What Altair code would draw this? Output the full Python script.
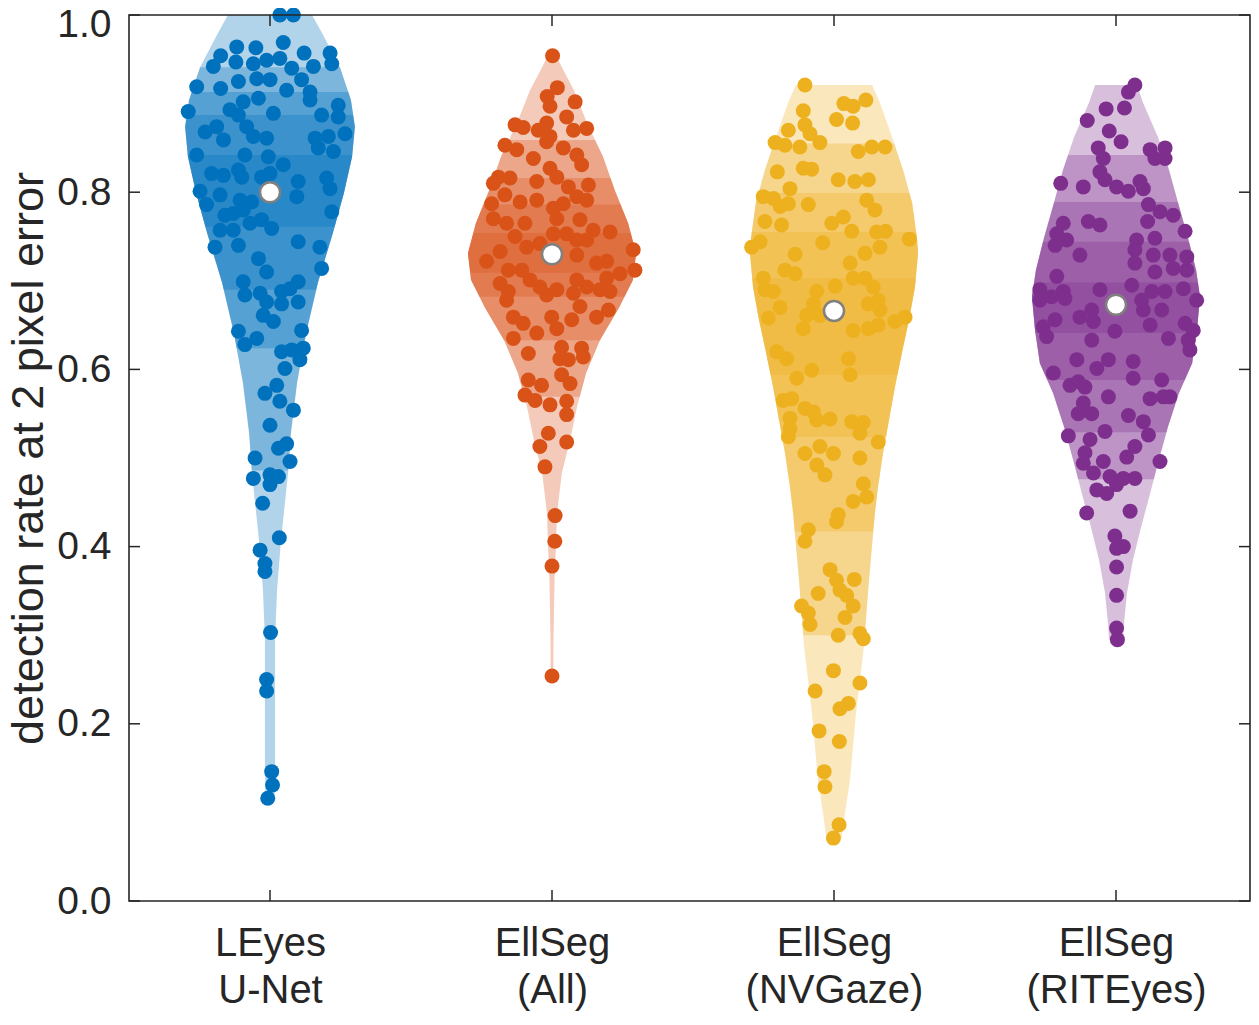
import altair as alt
import numpy as np
import pandas as pd

line1 = ["LEyes", "EllSeg", "EllSeg", "EllSeg"]
line2 = ["U-Net", "(All)", "(NVGaze)", "(RITEyes)"]
colors = ["#0072BD", "#D95319", "#EDB120", "#7E2F8E"]
medians = [0.800, 0.730, 0.666, 0.673]
y_ticks = [0.0, 0.2, 0.4, 0.6, 0.8, 1.0]
y_title = "detection rate at 2 pixel error"

# individual points: (horizontal jitter in category units, detection rate)
leyes_pts = [
    (0.035, 1.000), (0.083, 1.000), (-0.118, 0.964), (-0.050, 0.963), (0.047, 0.969), (0.121, 0.957),
    (0.213, 0.957), (-0.175, 0.954), (-0.201, 0.942), (-0.121, 0.947), (-0.059, 0.945), (-0.012, 0.949),
    (0.035, 0.951), (0.077, 0.940), (0.154, 0.942), (0.219, 0.945), (-0.260, 0.919), (-0.175, 0.917),
    (-0.112, 0.925), (-0.047, 0.928), (0.000, 0.927), (0.059, 0.915), (0.112, 0.927), (0.142, 0.913),
    (0.142, 0.904), (-0.041, 0.906), (0.012, 0.889), (-0.095, 0.902), (-0.142, 0.893), (-0.112, 0.887),
    (-0.290, 0.891), (0.183, 0.887), (0.242, 0.898), (0.242, 0.885), (0.266, 0.866), (-0.230, 0.868),
    (-0.189, 0.874), (-0.165, 0.859), (-0.083, 0.874), (-0.059, 0.863), (-0.012, 0.861), (0.160, 0.861),
    (0.207, 0.863), (0.171, 0.850), (0.225, 0.846), (-0.260, 0.842), (-0.089, 0.842), (-0.006, 0.840),
    (0.047, 0.831), (-0.207, 0.821), (-0.165, 0.819), (-0.112, 0.825), (-0.100, 0.817), (-0.030, 0.817),
    (0.000, 0.821), (0.100, 0.812), (0.095, 0.795), (0.201, 0.816), (0.213, 0.804), (-0.248, 0.801),
    (-0.177, 0.797), (-0.225, 0.786), (-0.106, 0.791), (-0.065, 0.789), (-0.160, 0.774), (-0.130, 0.776),
    (-0.095, 0.780), (-0.177, 0.757), (-0.130, 0.757), (-0.071, 0.765), (-0.030, 0.769), (0.006, 0.759),
    (0.219, 0.778), (-0.195, 0.738), (-0.112, 0.740), (0.100, 0.744), (0.177, 0.738), (-0.041, 0.725),
    (-0.012, 0.710), (0.183, 0.714), (-0.095, 0.699), (0.100, 0.699), (-0.089, 0.684), (-0.035, 0.686),
    (0.041, 0.688), (0.071, 0.691), (-0.012, 0.676), (0.041, 0.674), (0.100, 0.676), (-0.024, 0.661),
    (0.012, 0.654), (-0.112, 0.643), (-0.089, 0.628), (-0.047, 0.635), (0.112, 0.644), (0.118, 0.624),
    (0.041, 0.620), (0.077, 0.622), (0.106, 0.611), (0.053, 0.601), (-0.018, 0.573), (0.024, 0.582),
    (0.035, 0.564), (0.083, 0.554), (0.000, 0.537), (0.030, 0.511), (0.059, 0.516), (-0.053, 0.500),
    (0.071, 0.496), (-0.059, 0.477), (0.000, 0.481), (0.030, 0.479), (0.000, 0.470), (-0.026, 0.449),
    (0.033, 0.410), (-0.035, 0.396), (-0.018, 0.381), (-0.018, 0.372), (0.002, 0.303), (-0.012, 0.250),
    (-0.012, 0.237), (0.006, 0.146), (0.009, 0.131), (-0.008, 0.116),
]
ellall_pts = [
    (0.002, 0.954), (0.019, 0.918), (-0.017, 0.908), (-0.007, 0.897), (0.082, 0.902), (0.052, 0.885),
    (-0.131, 0.876), (-0.102, 0.873), (-0.049, 0.870), (-0.019, 0.878), (-0.007, 0.863), (0.076, 0.870),
    (0.123, 0.872), (-0.167, 0.853), (-0.125, 0.848), (-0.066, 0.838), (-0.019, 0.857), (0.040, 0.850),
    (0.088, 0.842), (0.105, 0.831), (-0.190, 0.817), (-0.149, 0.816), (-0.208, 0.810), (-0.054, 0.812),
    (-0.007, 0.827), (0.017, 0.817), (0.058, 0.806), (0.129, 0.808), (-0.167, 0.797), (-0.113, 0.789),
    (-0.054, 0.791), (0.005, 0.782), (0.040, 0.787), (0.088, 0.795), (0.123, 0.791), (-0.214, 0.787),
    (-0.208, 0.770), (-0.161, 0.765), (-0.096, 0.765), (0.017, 0.770), (0.099, 0.769), (0.146, 0.757),
    (0.206, 0.755), (-0.131, 0.750), (-0.090, 0.738), (-0.184, 0.733), (-0.232, 0.722), (-0.043, 0.742),
    (0.005, 0.753), (0.052, 0.753), (0.088, 0.746), (0.123, 0.746), (0.088, 0.729), (0.158, 0.720),
    (0.194, 0.722), (0.288, 0.735), (0.294, 0.712), (0.241, 0.708), (0.194, 0.703), (-0.155, 0.712),
    (-0.107, 0.712), (-0.184, 0.697), (-0.155, 0.688), (-0.161, 0.678), (-0.078, 0.701), (-0.043, 0.693),
    (0.017, 0.690), (-0.019, 0.684), (0.088, 0.701), (0.076, 0.686), (0.123, 0.693), (0.170, 0.690),
    (0.206, 0.688), (-0.137, 0.659), (-0.102, 0.652), (-0.054, 0.641), (-0.137, 0.635), (-0.001, 0.659),
    (0.017, 0.646), (0.070, 0.656), (0.099, 0.671), (0.158, 0.659), (0.200, 0.667), (-0.084, 0.618),
    (0.034, 0.625), (0.028, 0.612), (0.058, 0.611), (0.105, 0.624), (0.111, 0.614), (-0.084, 0.588),
    (-0.037, 0.582), (-0.096, 0.571), (-0.060, 0.565), (0.034, 0.594), (0.064, 0.584), (-0.007, 0.560),
    (0.052, 0.564), (0.052, 0.549), (-0.013, 0.528), (-0.043, 0.513), (0.052, 0.518), (-0.025, 0.490),
    (0.011, 0.435), (0.010, 0.406), (0.000, 0.378), (0.000, 0.254),
]
nvgaze_pts = [
    (-0.103, 0.921), (-0.109, 0.892), (0.035, 0.900), (0.068, 0.897), (0.113, 0.904), (0.009, 0.882),
    (0.066, 0.878), (-0.162, 0.870), (-0.103, 0.876), (-0.085, 0.866), (-0.209, 0.856), (-0.174, 0.853),
    (-0.121, 0.851), (-0.050, 0.856), (0.086, 0.846), (0.134, 0.851), (0.181, 0.851), (-0.201, 0.823),
    (-0.109, 0.827), (-0.079, 0.826), (0.015, 0.814), (0.074, 0.812), (0.122, 0.814), (0.116, 0.791),
    (-0.156, 0.804), (-0.251, 0.795), (-0.215, 0.793), (-0.191, 0.784), (-0.162, 0.787), (-0.245, 0.767),
    (-0.186, 0.763), (-0.091, 0.786), (0.145, 0.780), (-0.008, 0.765), (0.033, 0.772), (0.063, 0.756),
    (0.151, 0.755), (0.183, 0.756), (0.163, 0.738), (-0.292, 0.738), (-0.262, 0.744), (-0.040, 0.743),
    (0.267, 0.747), (-0.138, 0.730), (-0.174, 0.712), (-0.138, 0.708), (0.057, 0.720), (0.110, 0.731),
    (0.068, 0.703), (0.110, 0.703), (0.139, 0.693), (0.004, 0.694), (-0.251, 0.703), (-0.245, 0.690),
    (-0.215, 0.688), (-0.191, 0.670), (-0.233, 0.658), (-0.061, 0.688), (-0.073, 0.674), (-0.097, 0.661),
    (-0.109, 0.646), (-0.050, 0.661), (0.122, 0.674), (0.157, 0.678), (0.163, 0.667), (0.068, 0.644),
    (0.122, 0.646), (0.157, 0.650), (0.216, 0.654), (0.252, 0.659), (-0.203, 0.620), (-0.168, 0.612),
    (-0.079, 0.599), (-0.132, 0.590), (0.051, 0.612), (0.057, 0.594), (-0.180, 0.565), (-0.150, 0.567),
    (-0.103, 0.556), (-0.073, 0.552), (-0.156, 0.545), (-0.156, 0.533), (-0.162, 0.524), (-0.061, 0.543),
    (-0.014, 0.544), (0.063, 0.541), (0.104, 0.540), (0.092, 0.528), (0.157, 0.518), (-0.103, 0.505),
    (-0.050, 0.513), (-0.002, 0.505), (-0.061, 0.492), (-0.032, 0.481), (0.092, 0.500), (0.104, 0.471),
    (0.116, 0.456), (0.068, 0.451), (0.015, 0.436), (0.009, 0.428), (-0.091, 0.419), (-0.103, 0.406),
    (-0.014, 0.374), (0.009, 0.362), (0.072, 0.363), (-0.056, 0.347), (0.021, 0.351), (0.045, 0.345),
    (0.068, 0.333), (-0.115, 0.333), (-0.091, 0.325), (-0.085, 0.312), (0.039, 0.320), (0.015, 0.300),
    (0.092, 0.302), (0.104, 0.296), (-0.002, 0.260), (-0.067, 0.237), (0.092, 0.246), (0.021, 0.217),
    (0.051, 0.223), (-0.053, 0.192), (0.019, 0.180), (-0.035, 0.146), (-0.032, 0.129), (0.018, 0.086),
    (-0.002, 0.071),
]
riteyes_pts = [
    (0.067, 0.921), (0.044, 0.913), (-0.035, 0.894), (0.030, 0.895), (-0.102, 0.881), (-0.024, 0.869),
    (0.018, 0.857), (-0.063, 0.850), (-0.045, 0.838), (0.121, 0.848), (0.174, 0.850), (0.174, 0.838),
    (0.138, 0.838), (-0.057, 0.823), (-0.039, 0.814), (0.002, 0.806), (0.044, 0.801), (0.085, 0.812),
    (0.097, 0.804), (-0.196, 0.810), (-0.116, 0.806), (0.115, 0.786), (0.156, 0.778), (0.203, 0.774),
    (0.112, 0.767), (0.245, 0.756), (-0.187, 0.765), (-0.210, 0.753), (-0.175, 0.746), (-0.216, 0.740),
    (-0.098, 0.767), (-0.057, 0.763), (-0.128, 0.729), (0.073, 0.746), (0.138, 0.748), (0.067, 0.735),
    (0.067, 0.720), (0.132, 0.729), (0.191, 0.729), (0.251, 0.727), (0.138, 0.710), (0.203, 0.714),
    (0.251, 0.712), (-0.210, 0.705), (-0.270, 0.690), (-0.270, 0.678), (-0.228, 0.682), (-0.187, 0.688),
    (-0.181, 0.680), (-0.057, 0.690), (0.056, 0.695), (0.127, 0.688), (0.174, 0.688), (0.239, 0.691),
    (0.286, 0.678), (0.091, 0.678), (0.097, 0.667), (0.162, 0.667), (-0.128, 0.659), (-0.086, 0.667),
    (-0.080, 0.654), (-0.216, 0.656), (-0.258, 0.648), (-0.246, 0.637), (-0.004, 0.643), (0.121, 0.650),
    (0.245, 0.652), (0.274, 0.644), (0.186, 0.635), (0.256, 0.633), (0.262, 0.622), (-0.086, 0.633),
    (-0.139, 0.611), (-0.027, 0.611), (0.061, 0.609), (-0.068, 0.601), (-0.222, 0.596), (0.061, 0.590),
    (0.162, 0.588), (-0.163, 0.582), (-0.134, 0.586), (-0.110, 0.580), (-0.027, 0.569), (0.121, 0.567),
    (0.168, 0.569), (0.191, 0.569), (-0.116, 0.562), (-0.134, 0.550), (-0.086, 0.550), (0.044, 0.548),
    (0.097, 0.541), (0.115, 0.526), (-0.039, 0.530), (-0.169, 0.525), (-0.092, 0.521), (-0.110, 0.506),
    (-0.116, 0.494), (-0.045, 0.496), (-0.080, 0.483), (0.038, 0.501), (0.067, 0.513), (0.156, 0.496),
    (-0.021, 0.479), (0.026, 0.477), (0.067, 0.477), (-0.068, 0.464), (-0.033, 0.460), (0.002, 0.470),
    (-0.104, 0.438), (0.050, 0.440), (-0.004, 0.412), (0.026, 0.400), (0.002, 0.398), (0.002, 0.377),
    (0.002, 0.345), (0.002, 0.308), (0.005, 0.295),
]

# violin outlines: (detection rate, half width in category units)
leyes_outline = [
    (1.000, 0.149), (0.980, 0.184), (0.941, 0.248), (0.904, 0.287), (0.874, 0.301), (0.840, 0.291),
    (0.799, 0.262), (0.754, 0.223), (0.698, 0.170), (0.641, 0.128), (0.585, 0.096), (0.528, 0.074),
    (0.483, 0.064), (0.407, 0.039), (0.351, 0.025), (0.295, 0.018), (0.219, 0.018), (0.156, 0.018),
    (0.116, 0.016),
]
ellall_outline = [
    (0.954, 0.015), (0.938, 0.040), (0.915, 0.078), (0.878, 0.124), (0.840, 0.181), (0.802, 0.223),
    (0.765, 0.270), (0.731, 0.298), (0.701, 0.287), (0.670, 0.238), (0.633, 0.170), (0.596, 0.121),
    (0.558, 0.089), (0.520, 0.064), (0.483, 0.035), (0.438, 0.018), (0.400, 0.014), (0.362, 0.009),
    (0.287, 0.005), (0.254, 0.005),
]
nvgaze_outline = [
    (0.921, 0.135), (0.901, 0.163), (0.862, 0.206), (0.825, 0.245), (0.788, 0.277), (0.749, 0.294),
    (0.731, 0.298), (0.693, 0.287), (0.656, 0.266), (0.619, 0.241), (0.580, 0.216), (0.543, 0.195),
    (0.506, 0.174), (0.467, 0.156), (0.438, 0.145), (0.362, 0.124), (0.287, 0.106), (0.212, 0.078),
    (0.137, 0.057), (0.099, 0.039), (0.071, 0.027),
]
riteyes_outline = [
    (0.921, 0.074), (0.901, 0.096), (0.862, 0.149), (0.825, 0.188), (0.788, 0.220), (0.749, 0.255),
    (0.712, 0.284), (0.682, 0.298), (0.644, 0.287), (0.607, 0.270), (0.573, 0.223), (0.535, 0.184),
    (0.498, 0.152), (0.460, 0.121), (0.422, 0.089), (0.385, 0.060), (0.348, 0.039), (0.309, 0.027),
    (0.295, 0.025),
]

# decile boundaries: q10, q20, q30, q40, q60, q70, q80, q90
leyes_q = [0.486, 0.624, 0.690, 0.761, 0.842, 0.887, 0.913, 0.941]
ellall_q = [0.569, 0.633, 0.682, 0.709, 0.754, 0.786, 0.816, 0.859]
nvgaze_q = [0.300, 0.417, 0.524, 0.594, 0.703, 0.755, 0.799, 0.855]
riteyes_q = [0.476, 0.529, 0.588, 0.641, 0.698, 0.744, 0.789, 0.842]

names = [f"{a} {b}" for a, b in zip(line1, line2)]
all_pts = [leyes_pts, ellall_pts, nvgaze_pts, riteyes_pts]
all_outlines = [leyes_outline, ellall_outline, nvgaze_outline, riteyes_outline]
all_q = [leyes_q, ellall_q, nvgaze_q, riteyes_q]

# violin polygons: full outline plus nested decile ranges, each drawn translucent
vrows = []
for gi, (outline, q) in enumerate(zip(all_outlines, all_q)):
    pos = gi + 1
    oy = np.array([o[0] for o in outline])
    ow = np.array([o[1] for o in outline])
    idx = np.argsort(oy)
    oy, ow = oy[idx], ow[idx]
    intervals = [(oy[0], oy[-1]), (q[0], q[7]), (q[1], q[6]), (q[2], q[5]), (q[3], q[4])]
    for k, (lo, hi) in enumerate(intervals):
        ys = [float(lo)] + [float(v) for v in oy if lo < v < hi] + [float(hi)]
        for yv in ys:
            w = float(np.interp(yv, oy, ow))
            vrows.append(dict(group=names[gi], poly=f"{gi}-{k}", y=yv,
                              x=pos - w, x2=pos + w))
vdf = pd.DataFrame(vrows)

prows = []
for gi, pts in enumerate(all_pts):
    for j, v in pts:
        prows.append(dict(group=names[gi], x=gi + 1 + j, y=v))
pdf = pd.DataFrame(prows)

mdf = pd.DataFrame({"group": names, "x": [1, 2, 3, 4], "y": medians})
ytdf = pd.DataFrame({"y": y_ticks})
xtdf = pd.DataFrame({"x": [1, 2, 3, 4]})

AX = "#262626"
FONT = "Liberation Sans"
W, H = 1121, 886
xscale = alt.Scale(domain=[0.5, 0.5 + W / 282.0], nice=False, zero=False)
yscale = alt.Scale(domain=[0, 1], nice=False, zero=False)
label_expr = "[" + ",".join(f"['{a}','{b}']" for a, b in zip(line1, line2)) + "][datum.value - 1]"
xaxis = alt.Axis(values=[1, 2, 3, 4], labelExpr=label_expr, grid=False, ticks=False, domain=False,
                 labelFontSize=40, labelColor=AX, labelPadding=22, labelLineHeight=47,
                 labelFont=FONT, labelFlush=False, labelLimit=500)
yaxis = alt.Axis(values=y_ticks, format=".1f", grid=False, ticks=False, domain=False,
                 labelFontSize=39, labelColor=AX, labelPadding=18, labelFont=FONT, labelFlush=False,
                 labelOffset={"condition": {"test": "datum.value >= 1", "value": 9}, "value": 0},
                 titleFontSize=45, titleFontWeight="normal", titleColor=AX, titleFont=FONT,
                 titlePadding=5)


def X(field):
    return alt.X(field, scale=xscale, axis=xaxis, title=None)


def Y(field):
    return alt.Y(field, scale=yscale, axis=yaxis, title=y_title)


color = alt.Color("group:N", scale=alt.Scale(domain=names, range=colors), legend=None)

violins = alt.Chart(vdf).mark_area(orient="horizontal", opacity=0.3).encode(
    x=X("x:Q"),
    x2="x2:Q",
    y=Y("y:Q"),
    color=color,
    detail="poly:N",
)

points = alt.Chart(pdf).mark_circle(size=225, opacity=1).encode(
    x=X("x:Q"), y=Y("y:Q"), color=color
)

med = alt.Chart(mdf).mark_circle(size=400, color="white", stroke="#808080", strokeWidth=2.5,
                                 opacity=1).encode(x=X("x:Q"), y=Y("y:Q"))

tick_style = dict(color=AX, strokeWidth=1.5)
lt = alt.Chart(ytdf).mark_rule(**tick_style).encode(y=Y("y:Q"), x=alt.value(0), x2=alt.value(11))
rt = alt.Chart(ytdf).mark_rule(**tick_style).encode(y=Y("y:Q"), x=alt.value(W), x2=alt.value(W - 11))
bt = alt.Chart(xtdf).mark_rule(**tick_style).encode(x=X("x:Q"), y=alt.value(H), y2=alt.value(H - 11))
tt = alt.Chart(xtdf).mark_rule(**tick_style).encode(x=X("x:Q"), y=alt.value(0), y2=alt.value(11))

# axes box
frame = alt.Chart(xtdf.head(1)).mark_rect(fillOpacity=0, stroke=AX, strokeWidth=1.6).encode(
    x=alt.value(0), x2=alt.value(W), y=alt.value(0), y2=alt.value(H)
)

chart = alt.layer(violins, points, med, lt, rt, bt, tt, frame).properties(
    width=W, height=H,
    padding={"left": 121, "top": 7, "right": 1, "bottom": 110},
    autosize=alt.AutoSizeParams(type="none"),
).configure(font=FONT).configure_view(stroke=None)

chart.save("out.html", embed_options={"renderer": "svg", "actions": False})
